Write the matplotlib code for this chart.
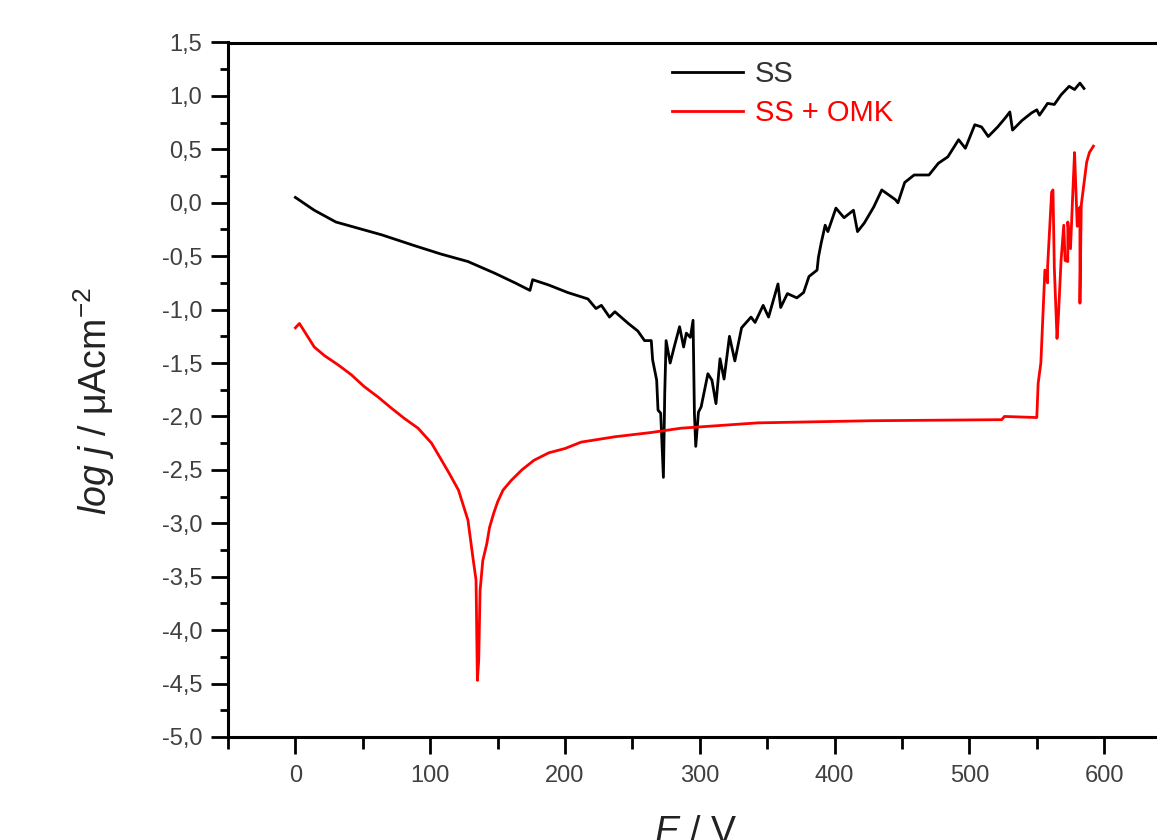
import matplotlib
matplotlib.use("Agg")
import matplotlib.pyplot as plt
from matplotlib.ticker import FuncFormatter, MultipleLocator

plt.rcParams["font.family"] = ["Liberation Sans", "DejaVu Sans"]
plt.rcParams["mathtext.fontset"] = "custom"
plt.rcParams["mathtext.rm"] = "Liberation Sans"
plt.rcParams["mathtext.it"] = "Liberation Sans:italic"

# SS curve (E / V, log j)
ss_e = [0, 14, 30, 47, 64, 88, 108, 128, 148, 163, 174, 176, 188, 202, 217, 223,
        227, 233, 237, 247, 254, 259, 264, 265, 268, 269, 271, 273, 274, 275, 278,
        281, 285, 288, 290, 293, 295, 296, 297, 299, 301, 306, 309, 312, 315, 318,
        322, 326, 331, 338, 341, 347, 351, 358, 360, 365, 372, 377, 381, 387, 388,
        390, 393, 395, 401, 407, 414, 417, 422, 429, 435, 445, 447, 452, 459, 470,
        477, 484, 492, 497, 504, 509, 514, 521, 527, 530, 532, 539, 546, 550, 552,
        558, 563, 568, 574, 578, 582, 585]
ss_logj = [0.05, -0.07, -0.18, -0.24, -0.30, -0.40, -0.48, -0.55, -0.66, -0.75,
           -0.82, -0.72, -0.77, -0.84, -0.90, -0.99, -0.96, -1.07, -1.02, -1.13,
           -1.20, -1.29, -1.29, -1.47, -1.66, -1.94, -1.97, -2.57, -1.78, -1.29,
           -1.50, -1.35, -1.16, -1.35, -1.22, -1.26, -1.10, -1.97, -2.28, -1.96,
           -1.91, -1.60, -1.66, -1.88, -1.46, -1.65, -1.25, -1.48, -1.17, -1.07,
           -1.12, -0.96, -1.07, -0.76, -0.98, -0.85, -0.89, -0.84, -0.69, -0.63,
           -0.51, -0.38, -0.21, -0.27, -0.05, -0.14, -0.07, -0.27, -0.19, -0.04,
           0.12, 0.03, 0.00, 0.19, 0.26, 0.26, 0.37, 0.43, 0.59, 0.51, 0.73, 0.71,
           0.62, 0.71, 0.80, 0.85, 0.68, 0.77, 0.84, 0.87, 0.82, 0.93, 0.92, 1.01,
           1.09, 1.06, 1.12, 1.07]

# SS + OMK curve
omk_e = [0, 3, 9.5, 14, 21.5, 32, 41.5, 51, 61.5, 71, 81, 91, 101, 108, 114, 121,
         125, 128, 130, 132, 134, 135, 136, 137, 139, 142, 144, 147, 150, 154, 160,
         168, 177, 188, 200, 212, 237, 264, 286, 343, 427, 524, 526, 550, 551, 553,
         556, 558, 558, 561, 562, 563, 565, 566, 568, 570, 571, 573, 573, 575, 577,
         578, 580, 582, 582, 583, 585, 587, 589, 592]
omk_logj = [-1.17, -1.13, -1.26, -1.35, -1.43, -1.52, -1.61, -1.72, -1.82, -1.92,
            -2.02, -2.11, -2.25, -2.40, -2.53, -2.69, -2.85, -2.97, -3.16, -3.35,
            -3.53, -4.47, -4.28, -3.63, -3.35, -3.19, -3.04, -2.91, -2.80, -2.69,
            -2.60, -2.50, -2.41, -2.34, -2.30, -2.24, -2.19, -2.15, -2.11, -2.06,
            -2.04, -2.03, -2.00, -2.01, -1.69, -1.50, -0.63, -0.75, -0.60, 0.10,
            0.12, -0.61, -1.27, -1.07, -0.54, -0.21, -0.54, -0.55, -0.18, -0.43,
            0.18, 0.47, -0.22, -0.04, -0.94, -0.02, 0.18, 0.38, 0.47, 0.53]

W, H = 1157, 840
fig = plt.figure(figsize=(W / 100, H / 100), dpi=100)
ax = fig.add_axes([228 / W, 103 / H, 943.6 / W, 694.5 / H])

ax.plot(ss_e, ss_logj, color="black", lw=2.0, label="SS")
ax.plot(omk_e, omk_logj, color="#ff0000", lw=2.0, label="SS + OMK")

ax.set_xlim(-50, 650)
ax.set_ylim(-5.0, 1.5)
ax.xaxis.set_major_locator(MultipleLocator(100))
ax.xaxis.set_minor_locator(MultipleLocator(50))
ax.yaxis.set_major_locator(MultipleLocator(0.5))
ax.yaxis.set_minor_locator(MultipleLocator(0.25))


def comma_fmt(v, _):
    if abs(v) < 1e-9:
        v = 0.0
    return f"{v:.1f}".replace(".", ",")


ax.yaxis.set_major_formatter(FuncFormatter(comma_fmt))
ax.xaxis.set_major_formatter(FuncFormatter(lambda v, _: f"{v:.0f}"))

for s in ax.spines.values():
    s.set_linewidth(2.2)
ax.tick_params(which="both", direction="out", width=2.0, top=False, right=False,
               labelcolor="#404040", labelsize=17)
ax.tick_params(axis="y", which="major", length=12, pad=6.5)
ax.tick_params(axis="y", which="minor", length=6)
ax.tick_params(axis="x", which="major", length=12, pad=8)
ax.tick_params(axis="x", which="minor", length=8.5)

ax.set_ylabel(r"$\it{log\ j}$ / μAcm$^{-2}$", fontsize=27, color="#222222")
ax.yaxis.set_label_coords(-0.118, 0.484)
ax.set_xlabel(r"$\it{E}$ / V", fontsize=27, color="#222222")
ax.xaxis.set_label_coords(0.496, -0.112)

leg = ax.legend(loc="upper left", bbox_to_anchor=(0.4705, 0.975), frameon=False,
                fontsize=21, handlelength=2.45, handletextpad=0.4,
                labelspacing=0.38, borderpad=0, borderaxespad=0)
for txt, c in zip(leg.get_texts(), ["#333333", "#ff0000"]):
    txt.set_color(c)

fig.savefig("out.png", dpi=100)
